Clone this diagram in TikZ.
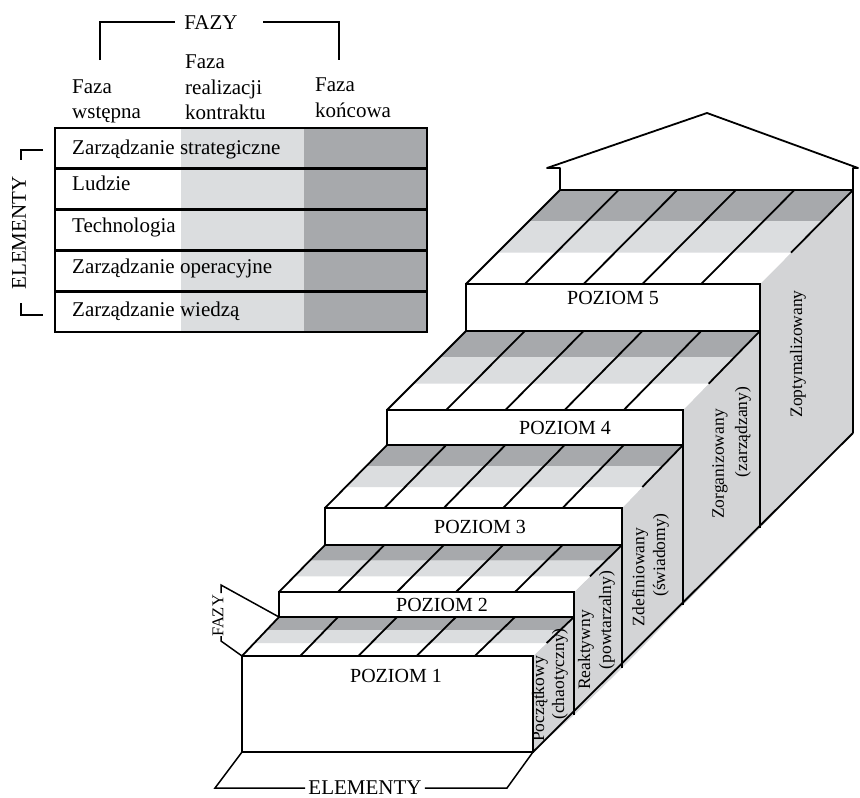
\documentclass[tikz,border=0pt]{standalone}
\usepackage{fontspec}
\setmainfont{Liberation Serif}
\usetikzlibrary{calc}
\definecolor{darkband}{RGB}{167,169,172}
\definecolor{lightband}{RGB}{219,221,223}
\definecolor{sideface}{RGB}{211,212,214}
\begin{document}
\begin{tikzpicture}[x=1pt,y=-1pt,
  edge/.style={line width=1.8pt,line join=miter},
  thinedge/.style={line width=1.5pt},
  bigtext/.style={inner sep=0pt,font=\fontsize{21}{25}\selectfont},
  leveltext/.style={inner sep=0pt,font=\fontsize{20}{24}\selectfont},
  sidetext/.style={inner sep=0pt,rotate=90,font=\fontsize{17.5}{20}\selectfont},
  smallaxis/.style={inner sep=0pt,rotate=90,font=\fontsize{16.5}{20}\selectfont}]
\useasboundingbox (0,0) rectangle (860,798);

% ---------- corner coordinates of the five levels ----------
\foreach \k/\L/\R/\T/\B/\S in {1/242/533/656/752/752,2/279/574/592/617/715,3/325/622/508/545/668,4/387/683/410/445/605,5/466/760/284/331/528,6/560/853/190/190/433}{
  \coordinate (FL\k) at (\L,\T);
  \coordinate (FR\k) at (\R,\T);
  \coordinate (GL\k) at (\L,\B);
  \coordinate (GR\k) at (\R,\B);
  \coordinate (S\k) at (\R,\S);
}

% ---------- fills ----------
\foreach \k/\n in {1/2,2/3,3/4,4/5,5/6}{
  \fill[sideface] (FR\k) -- (GR\n) -- (S\n) -- (S\k) -- cycle;
  \fill[white] (FL\k) -- (FR\k) -- (GR\n) -- (GL\n) -- cycle;
  \fill[darkband] (GL\n) -- (GR\n) -- ($(GR\n)!1/3!(FR\k)$) -- ($(GL\n)!1/3!(FL\k)$) -- cycle;
  \fill[lightband] ($(GL\n)!1/3!(FL\k)$) -- ($(GR\n)!1/3!(FR\k)$) -- ($(GR\n)!2/3!(FR\k)$) -- ($(GL\n)!2/3!(FL\k)$) -- cycle;
  \fill[white] (FL\k) rectangle (GR\k);
}

% ---------- lines ----------
\foreach \k/\n in {1/2,2/3,3/4,4/5,5/6}{
  \foreach \i in {1,2,3,4}{
    \draw[edge] ($(FL\k)!\i/5!(FR\k)$) -- ($(GL\n)!\i/5!(GR\n)$);
  }
  \draw[edge] (FL\k) -- (GL\n);
  \draw[edge] (GR\n) -- ($(GR\n)!2/3!(FR\k)$);
  \draw[edge] (FL\k) rectangle (GR\k);
  \draw[edge] (FR\k) -- (S\k);
}
\draw[edge] (S1) -- (S6);
\draw[edge] (GR6) -- (S6);

% ---------- roof ----------
\coordinate (roofA) at (560,168);
\coordinate (roofB) at (547,168);
\coordinate (roofTop) at (707,113);
\coordinate (roofC) at (858,168);
\coordinate (roofD) at (853,168);
\draw[edge,line join=round,fill=white] (GL6) -- (roofA) -- (roofB) -- (roofTop) -- (roofC) -- (roofD) -- (GR6) -- cycle;

% ---------- level labels ----------
\node[leveltext] (p1) at (396,676) {POZIOM 1};
\node[leveltext] (p2) at (442,605) {POZIOM 2};
\node[leveltext] (p3) at (480,527) {POZIOM 3};
\node[leveltext] (p4) at (565,428) {POZIOM 4};
\node[leveltext] (p5) at (613,298) {POZIOM 5};

\node[sidetext] (s1a) at (540,699) {Początkowy};
\node[sidetext] (s1b) at (560,674) {(chaotyczny)};
\node[sidetext] (s2a) at (586,650) {Reaktywny};
\node[sidetext] (s2b) at (607,620) {(powtarzalny)};
\node[sidetext] (s3a) at (640,577) {Zdefiniowany};
\node[sidetext] (s3b) at (661,555) {(świadomy)};
\node[sidetext] (s4a) at (720,464) {Zorganizowany};
\node[sidetext] (s4b) at (743,432) {(zarządzany)};
\node[sidetext] (s5a) at (798,354) {Zoptymalizowany};

% ---------- FAZY bracket at level 1 ----------
\coordinate (fzA) at (221,593);
\coordinate (fzB) at (221,585);
\coordinate (fzC) at (221,636);
\coordinate (fzD) at (221,641);
\draw[thinedge] (fzA) -- (fzB) -- (GL2);
\draw[thinedge] (fzC) -- (fzD) -- (FL1);
\node[smallaxis] (fazyside) at (218,616) {FAZY};

% ---------- ELEMENTY bracket at level 1 ----------
\node[bigtext,inner xsep=3pt] (elembottom) at (365,788) {ELEMENTY};
\coordinate (elA) at (215,788);
\coordinate (elB) at (507,788);
\draw[thinedge] (GL1) -- (elA) -- (elembottom.west);
\draw[thinedge] (elembottom.east) -- (elB) -- (GR1);

% ---------- table ----------
\coordinate (tabNW) at (55,128);
\coordinate (tabSE) at (427,332);
\fill[white] (55,128) rectangle (181,332);
\fill[lightband] (181,128) rectangle (304,332);
\fill[darkband] (304,128) rectangle (427,332);
\foreach \y in {168.8,209.6,250.4,291.2}{
  \draw[line width=2.8pt] (55,\y) -- (427,\y);
}
\draw[edge] (tabNW) rectangle (tabSE);

\node[bigtext,anchor=base west] (r1) at (72,154) {Zarządzanie strategiczne};
\node[bigtext,anchor=base west] (r2) at (72,190) {Ludzie};
\node[bigtext,anchor=base west] (r3) at (72,232) {Technologia};
\node[bigtext,anchor=base west] (r4) at (72,273) {Zarządzanie operacyjne};
\node[bigtext,anchor=base west] (r5) at (72,316) {Zarządzanie wiedzą};

\node[bigtext,anchor=base west] (h1a) at (72,93) {Faza};
\node[bigtext,anchor=base west] (h1b) at (72,118) {wstępna};
\node[bigtext,anchor=base west] (h2a) at (185,68) {Faza};
\node[bigtext,anchor=base west] (h2b) at (185,94) {realizacji};
\node[bigtext,anchor=base west] (h2c) at (185,119) {kontraktu};
\node[bigtext,anchor=base west] (h3a) at (315,91) {Faza};
\node[bigtext,anchor=base west] (h3b) at (315,117) {końcowa};

% top FAZY bracket
\node[bigtext,anchor=base] (fazytop) at (211,29.5) {FAZY};
\coordinate (ftA) at (100,60);
\coordinate (ftB) at (100,22);
\coordinate (ftC) at (175,22);
\coordinate (ftD) at (263,22);
\coordinate (ftE) at (339,22);
\coordinate (ftF) at (339,60);
\draw[thinedge] (ftA) -- (ftB) -- (ftC);
\draw[thinedge] (ftD) -- (ftE) -- (ftF);

% left ELEMENTY bracket
\node[bigtext,rotate=90] (elemleft) at (19,233) {ELEMENTY};
\coordinate (elL1) at (43,150);
\coordinate (elL2) at (21,150);
\coordinate (elL3) at (21,160);
\coordinate (elL4) at (21,303);
\coordinate (elL5) at (21,315);
\coordinate (elL6) at (43,315);
\draw[thinedge] (elL1) -- (elL2) -- (elL3);
\draw[thinedge] (elL4) -- (elL5) -- (elL6);
\end{tikzpicture}
\end{document}
